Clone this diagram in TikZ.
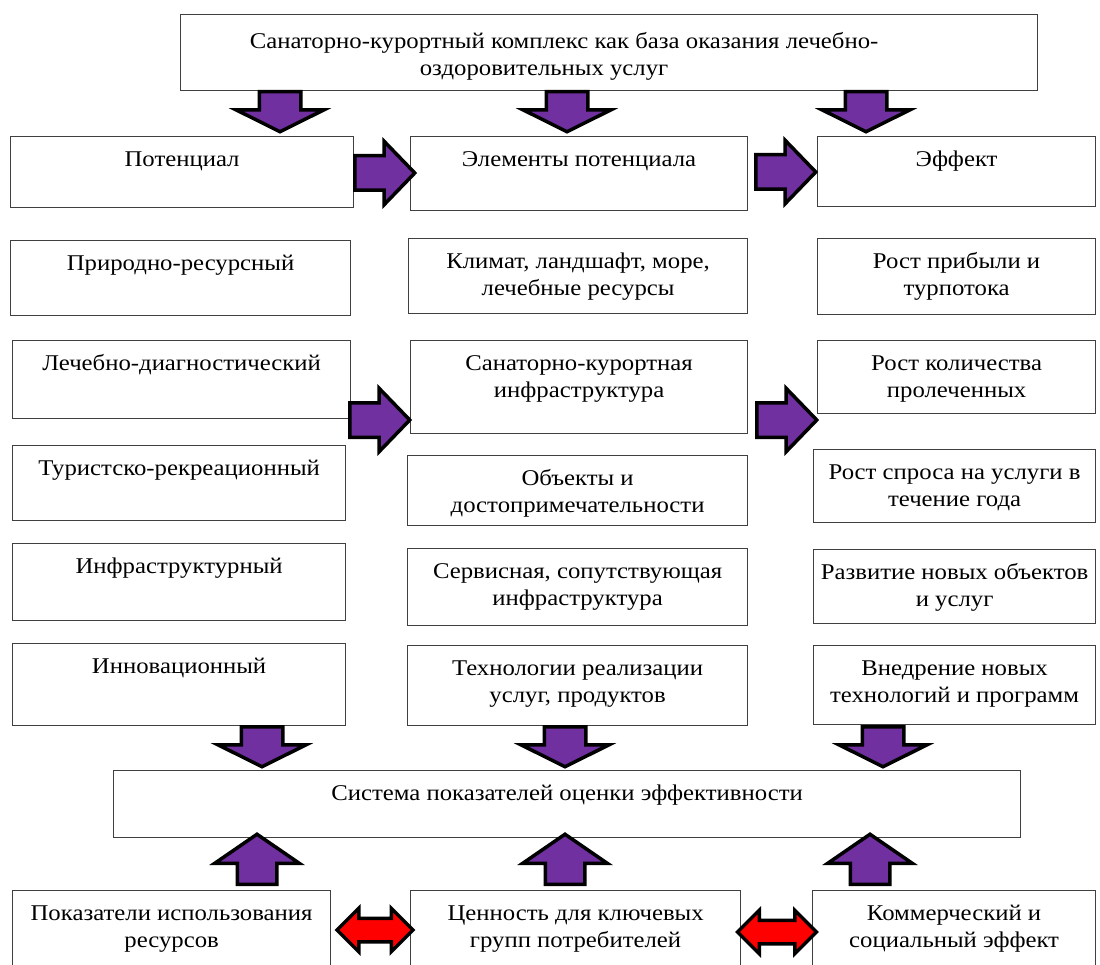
\documentclass[tikz,border=0pt]{standalone}
\usepackage{fontspec}
\setmainfont{Liberation Serif}[FakeStretch=1.1]
\usetikzlibrary{shapes.arrows}
\definecolor{arrowpurple}{RGB}{112,48,160}

\begin{document}
\begin{tikzpicture}[
    x=1pt, y=-1pt,
    blk/.style 2 args={rectangle, draw=black!75, line width=1.2pt, inner sep=0pt, anchor=north west,
        font=\fontsize{22.5}{27}\selectfont,
        execute at begin node={\begin{minipage}[c][#2pt][t]{#1pt}\centering\rule{0pt}{30pt}},
        execute at end node={\end{minipage}}},
    fat/.style={single arrow, draw=black, line width=3.5pt, fill=arrowpurple, inner xsep=0pt, anchor=tail},
    downarr/.style={fat, rotate=-90, minimum height=40pt, inner ysep=19pt, minimum width=84pt,
        single arrow head extend=23pt, single arrow tip angle=127},
    uparr/.style={fat, rotate=90, minimum height=50pt, inner ysep=18pt, minimum width=81pt,
        single arrow head extend=22.5pt, single arrow tip angle=111},
    rightarr/.style={fat, minimum height=60pt, inner ysep=15.5pt, minimum width=60pt,
        single arrow head extend=14.5pt, single arrow tip angle=92},
    bothway/.style={double arrow, draw=black, line width=3.5pt, fill=red, inner xsep=0pt, inner ysep=10pt,
        minimum width=40pt, double arrow head extend=10pt, double arrow tip angle=90}
]
\useasboundingbox (0,0) rectangle (1100,965);

% Top block
\node[blk={857}{76}] (base) at (180,14) {\rule{0pt}{34pt}Санаторно-курортный комплекс как база оказания лечебно-\hspace*{90pt}\mbox{}\\оздоровительных услуг\hspace*{130pt}\mbox{}};

% Headers
\node[blk={343}{71}] (pot) at (10,136) {Потенциал};
\node[blk={337}{74}] (elem) at (410,136) {Элементы потенциала};
\node[blk={278}{70}] (eff) at (817,136) {Эффект};

% Left column: types of potential
\node[blk={340}{75}] (nat) at (10,240) {Природно-ресурсный};
\node[blk={338}{78}] (med) at (12,340) {Лечебно-диагностический};
\node[blk={333}{75}] (tour) at (12,445) {Туристско-рекреационный};
\node[blk={333}{77}] (infr) at (12,543) {Инфраструктурный};
\node[blk={333}{82}] (innov) at (12,643) {Инновационный};

% Middle column: elements
\node[blk={339}{75}] (clim) at (408,238) {Климат, ландшафт, море,\\лечебные ресурсы};
\node[blk={337}{93}] (sanat) at (410,340) {Санаторно-курортная\\инфраструктура};
\node[blk={340}{70}] (obj) at (407,455) {Объекты и\\достопримечательности};
\node[blk={340}{77}] (serv) at (407,548) {Сервисная, сопутствующая\\инфраструктура};
\node[blk={340}{80}] (tech) at (407,645) {Технологии реализации\\услуг, продуктов};

% Right column: effects
\node[blk={278}{76}] (profit) at (817,238) {Рост прибыли и\\турпотока};
\node[blk={278}{73}] (cured) at (817,340) {Рост количества\\пролеченных};
\node[blk={282}{73}] (demand) at (813,449) {Рост спроса на услуги в\\течение года};
\node[blk={282}{74}] (newobj) at (813,549) {Развитие новых объектов\\и услуг};
\node[blk={282}{79}] (newtech) at (813,645) {Внедрение новых\\технологий и программ};

% Evaluation system
\node[blk={907}{67}] (sys) at (113,770) {Система показателей оценки эффективности};

% Bottom row
\node[blk={318}{85}] (res) at (12,890) {Показатели использования\\ресурсов};
\node[blk={330}{85}] (val) at (410,890) {Ценность для ключевых\\групп потребителей};
\node[blk={283}{85}] (comm) at (812,890) {Коммерческий и\\социальный эффект};

% Block arrows
\node[downarr] (d1) at (280,90) {};
\node[downarr] (d2) at (567,90) {};
\node[downarr] (d3) at (866,90) {};

\node[rightarr] (r1) at (353,173) {};
\node[rightarr] (r2) at (754,172) {};
\node[rightarr] (r3) at (348,420) {};
\node[rightarr] (r4) at (755,420) {};

\node[downarr] (d4) at (262,725) {};
\node[downarr] (d5) at (565,725) {};
\node[downarr] (d6) at (883,725) {};

\node[uparr] (u1) at (257,886) {};
\node[uparr] (u2) at (565,886) {};
\node[uparr] (u3) at (870,886) {};

\node[bothway, minimum height=76pt] (lr1) at (375,930) {};
\node[bothway, minimum height=79pt] (lr2) at (777,932) {};

\end{tikzpicture}
\end{document}
